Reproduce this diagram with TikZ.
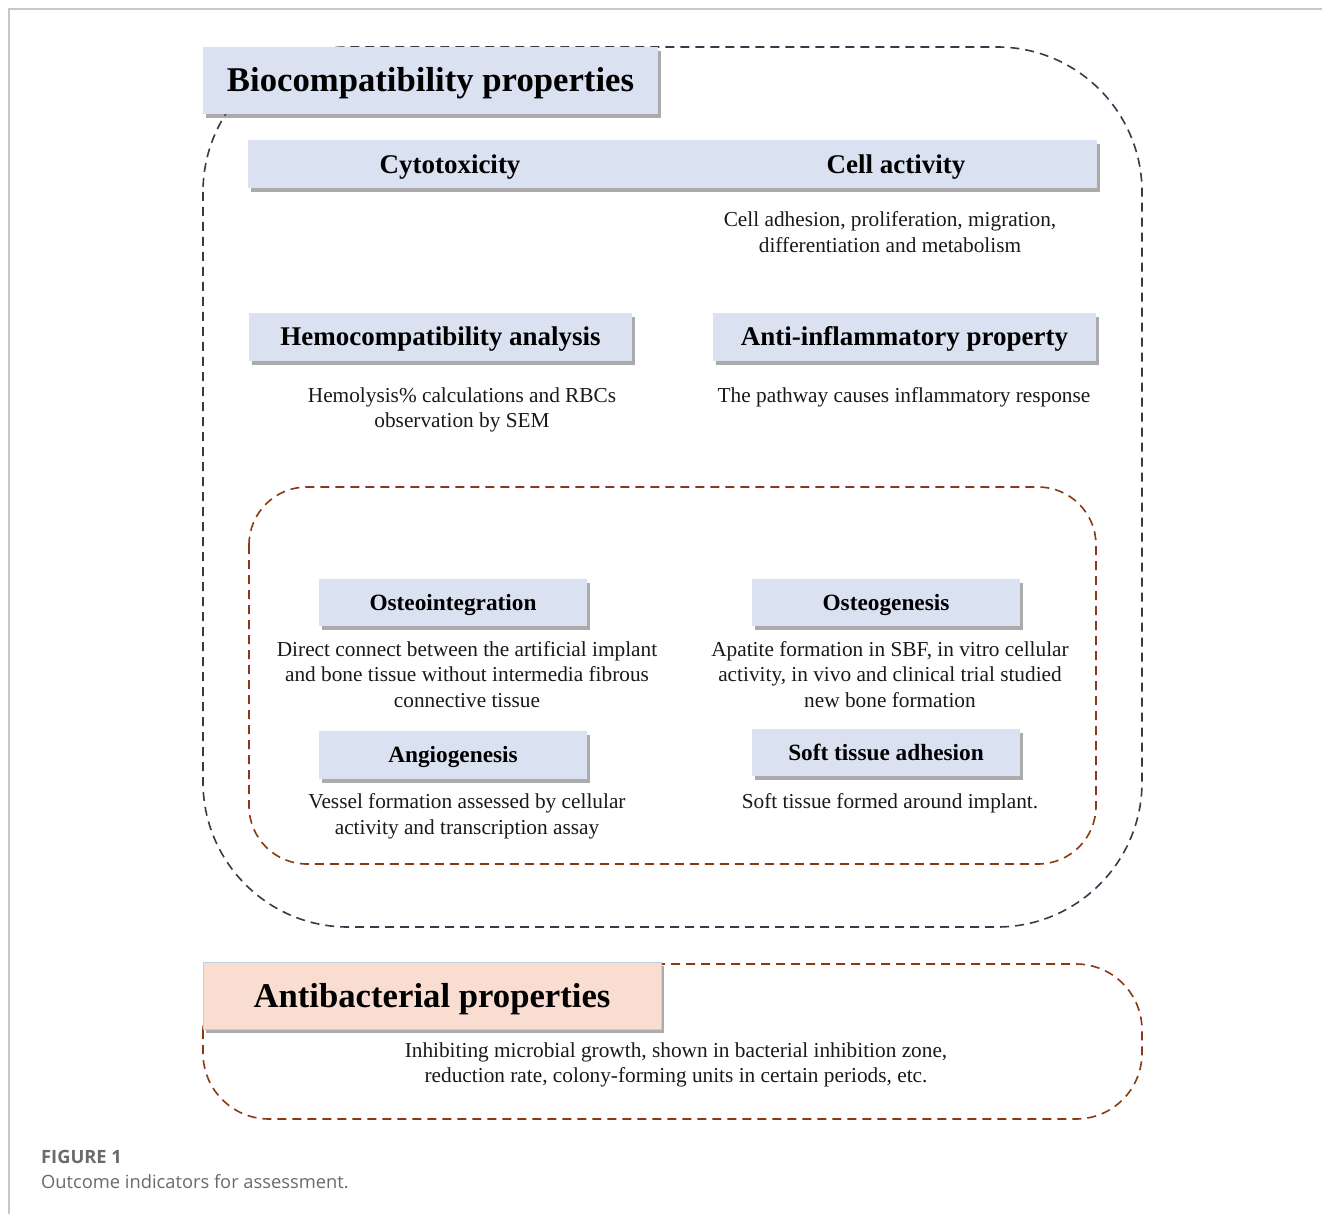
\documentclass[tikz,border=0pt]{standalone}
\usepackage{fontspec}
\setmainfont{Liberation Serif}
\newfontfamily\capfont{Open Sans}
\usetikzlibrary{shadows}
\definecolor{boxblue}{HTML}{DAE2F1}
\definecolor{boxpeach}{HTML}{F9DDD1}
\definecolor{peachedge}{HTML}{BFCFEA}
\definecolor{slatedash}{HTML}{343B4A}
\definecolor{browndash}{HTML}{8A3A12}
\definecolor{capgray}{HTML}{6A6A6A}
\tikzset{
  x=1pt, y=-1pt,
  boxshadow/.style={drop shadow={shadow xshift=3pt, shadow yshift=-4pt, fill=black!60, opacity=0.55}},
  bluebox/.style={rectangle, fill=boxblue, inner sep=0pt, boxshadow},
  peachbox/.style={rectangle, fill=boxpeach, draw=peachedge, line width=1pt, inner sep=0pt, boxshadow},
  bigtitle/.style={font=\fontsize{34.7}{40}\selectfont\bfseries, text height=24pt, text depth=1pt},
  midtitle/.style={font=\fontsize{27}{32}\selectfont\bfseries, text height=18.9pt, text depth=1pt},
  smalltitle/.style={font=\fontsize{23.3}{28}\selectfont\bfseries, text height=16.4pt, text depth=1pt},
  bartext/.style={midtitle, inner sep=0pt},
  bodytext/.style={font=\fontsize{21.3}{25.6}\selectfont, align=center, inner sep=0pt, text=black!90},
  slateframe/.style={draw=slatedash, line width=1.6pt, dash pattern=on 9pt off 6pt},
  brownframe/.style={draw=browndash, line width=1.6pt, dash pattern=on 9pt off 6pt},
}
\begin{document}
\begin{tikzpicture}
\useasboundingbox (0,0) rectangle (1322,1214);
\fill[white] (0,0) rectangle (1322,1214);
% page frame
\draw[black!22, line width=1.5pt] (9,1214) -- (9,9) -- (1322,9);

% dashed frames
\draw[slateframe, rounded corners=145pt] (203,47) rectangle (1142,927);
\draw[brownframe, rounded corners=58pt] (249,487) rectangle (1096,864);
\draw[brownframe, rounded corners=66pt] (203,964) rectangle (1142,1119);

% Biocompatibility
\node[bluebox, minimum width=455pt, minimum height=67pt, bigtitle] (bio) at (430.5,80.5) {Biocompatibility properties};

\node[bluebox, minimum width=849pt, minimum height=48pt] (bar) at (672.5,164) {};
\node[bartext] (cyto) at (450,165) {Cytotoxicity};
\node[bartext] (cell) at (896,165) {Cell activity};
\node[bodytext] (celltxt) at (890,232) {Cell adhesion, proliferation, migration,\\differentiation and metabolism};

\node[bluebox, minimum width=383pt, minimum height=48pt, midtitle] (hemo) at (440.5,337) {Hemocompatibility analysis};
\node[bodytext] (hemotxt) at (462,410) {Hemolysis\% calculations and RBCs\\observation by SEM};

\node[bluebox, minimum width=383pt, minimum height=48pt, midtitle] (anti) at (904.5,337) {Anti-inflammatory property};
\node[bodytext] (antitxt) at (904,397) {The pathway causes inflammatory response};

% inner group
\node[bluebox, minimum width=268pt, minimum height=47pt, smalltitle] (osteoi) at (453,602.5) {Osteointegration};
\node[bodytext] (osteoitxt) at (467,674.5) {Direct connect between the artificial implant\\and bone tissue without intermedia fibrous\\connective tissue};

\node[bluebox, minimum width=268pt, minimum height=47pt, smalltitle] (osteog) at (886,602.5) {Osteogenesis};
\node[bodytext] (osteogtxt) at (890,674.5) {Apatite formation in SBF, in vitro cellular\\activity, in vivo and clinical trial studied\\new bone formation};

\node[bluebox, minimum width=268pt, minimum height=48pt, smalltitle] (angio) at (453,755) {Angiogenesis};
\node[bodytext] (angiotxt) at (467,816) {Vessel formation assessed by cellular\\activity and transcription assay};

\node[bluebox, minimum width=268pt, minimum height=47pt, smalltitle] (soft) at (886,752.5) {Soft tissue adhesion};
\node[bodytext] (softtxt) at (890,803) {Soft tissue formed around implant.};

% Antibacterial
\node[peachbox, minimum width=458pt, minimum height=67pt, bigtitle] (abac) at (432,995.5) {Antibacterial properties};
\node[bodytext] (abactxt) at (676,1065) {Inhibiting microbial growth, shown in bacterial inhibition zone,\\reduction rate, colony-forming units in certain periods, etc.};

% caption
\node[anchor=west, inner sep=0pt, text=capgray, font=\capfont\fontsize{18.3}{22}\selectfont\bfseries] (fig) at (41,1157) {FIGURE 1};
\node[anchor=west, inner sep=0pt, text=capgray, font=\capfont\fontsize{18.3}{22}\selectfont] (cap) at (41,1182) {Outcome indicators for assessment.};
\end{tikzpicture}
\end{document}
